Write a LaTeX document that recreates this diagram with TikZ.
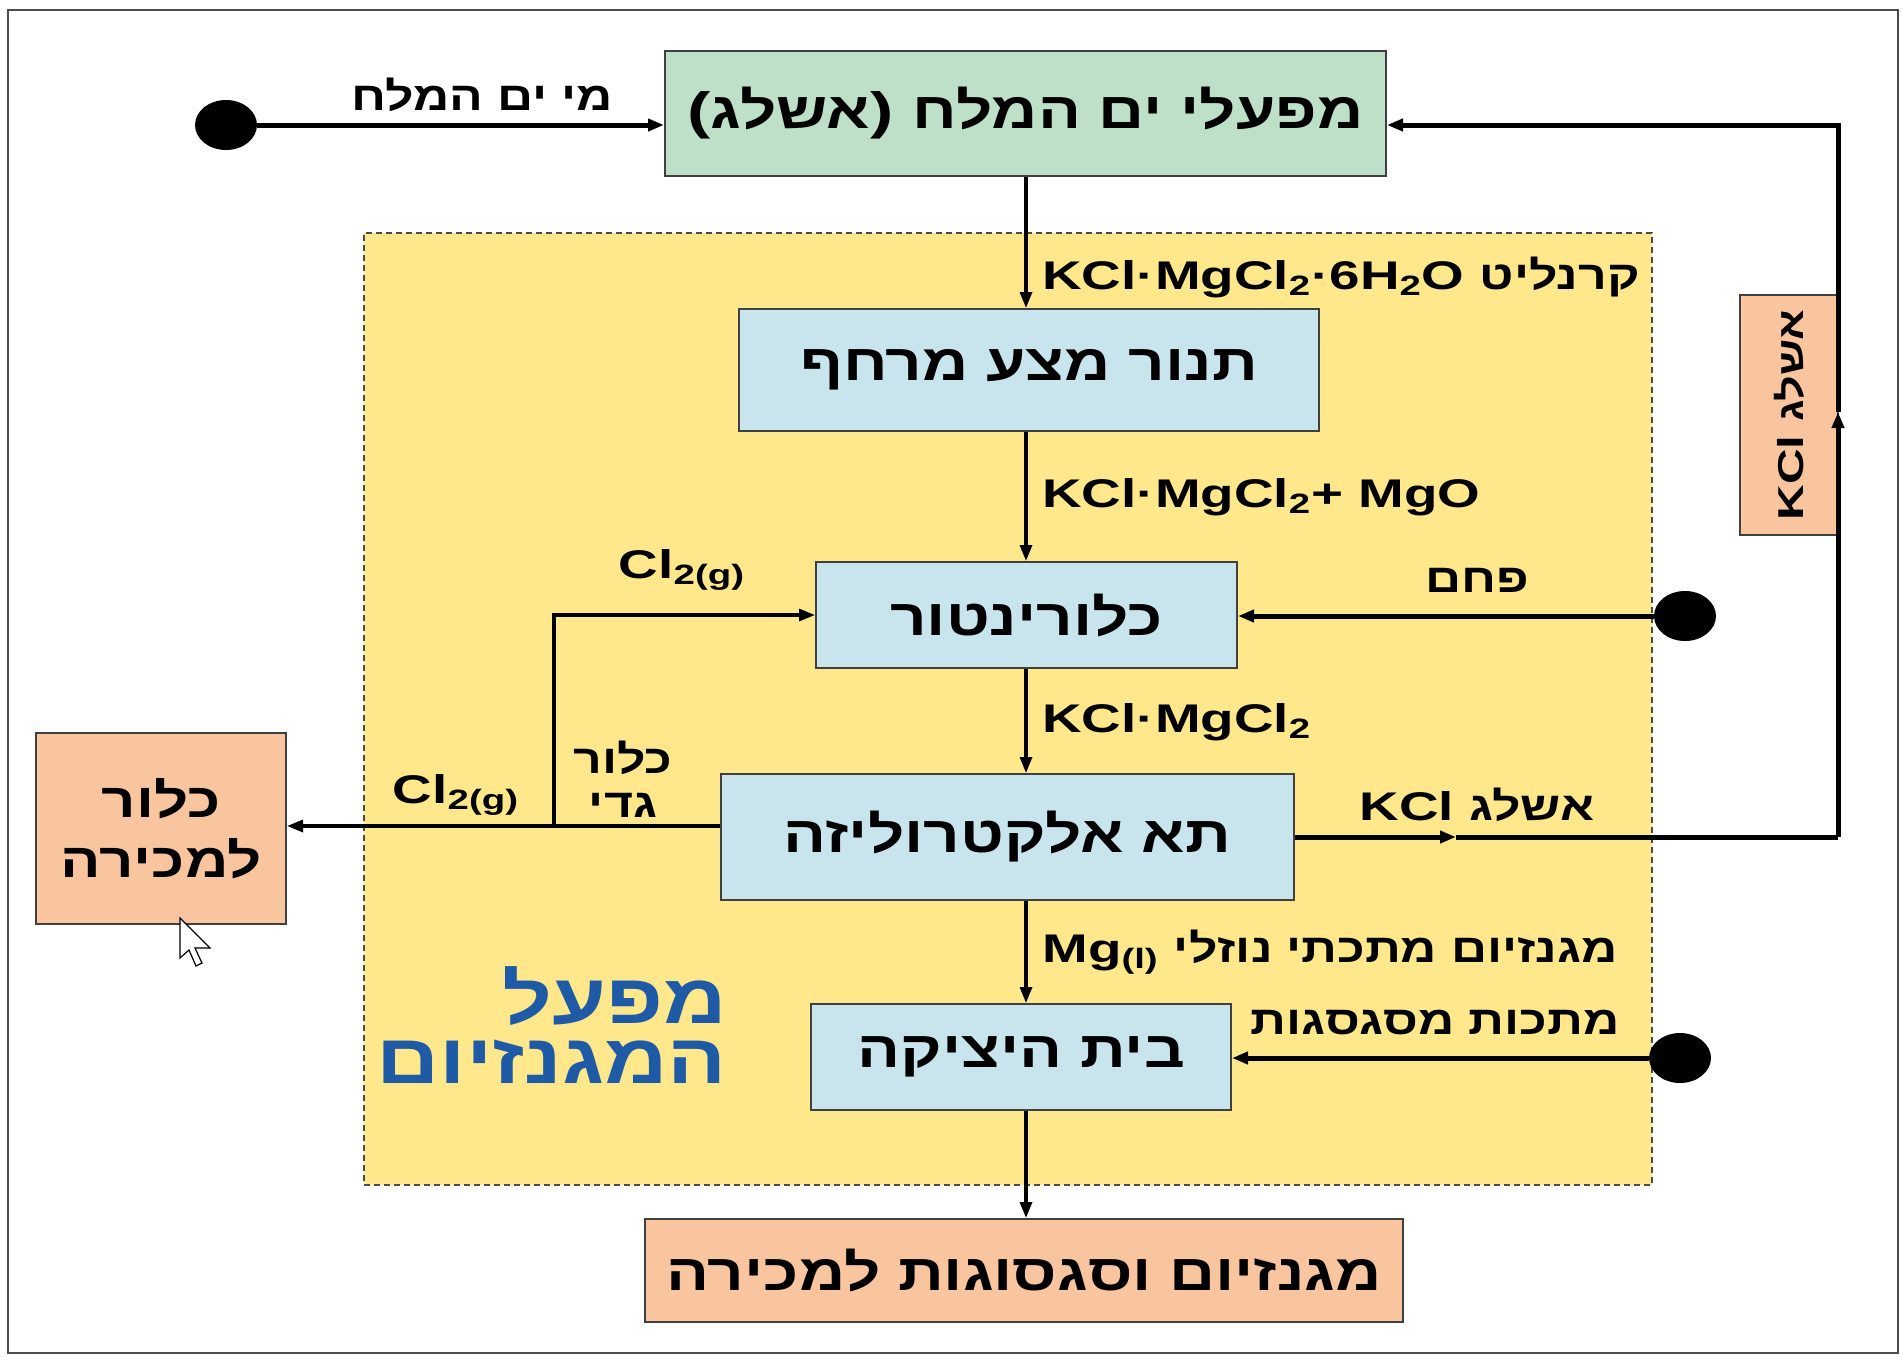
\documentclass[tikz,border=0pt]{standalone}
\usepackage{fontspec}
\setmainfont[FakeStretch=1.37]{Liberation Sans}
\newfontfamily\heb[Script=Hebrew,FakeStretch=1.25]{Liberation Sans}
\TeXXeTstate=1
\usetikzlibrary{arrows.meta,positioning,shapes.geometric}
\definecolor{saltgreen}{HTML}{BFE0C8}
\definecolor{procblue}{HTML}{C8E4EC}
\definecolor{saleorange}{HTML}{F9C59F}
\definecolor{plantyellow}{HTML}{FFE88C}
\definecolor{plantblue}{HTML}{1F5AA6}
\newcommand{\hebtxt}[1]{{\heb\beginR#1\endR}}
\tikzset{
  unit/.style={draw=black!75,line width=1pt,inner sep=0pt,align=center,
    font=\bfseries\fontsize{25.5}{30}\selectfont},
  saltbox/.style={unit,fill=saltgreen},
  procbox/.style={unit,fill=procblue},
  salebox/.style={unit,fill=saleorange},
  lbl/.style={inner sep=1pt,align=center,font=\bfseries\fontsize{20}{24}\selectfont},
  dot/.style={ellipse,fill=black,inner sep=0pt,minimum width=31pt,minimum height=25pt},
  tip/.style={-{Triangle[length=8pt,width=6pt]}},
  spine/.style={line width=1.6pt},
  feed/.style={line width=2.5pt},
}
\begin{document}
\begin{tikzpicture}[x=0.5pt,y=-0.5pt,line join=miter]
  \useasboundingbox (0,0) rectangle (1902,1356);
  \draw[black!70,line width=1pt] (8,10) rectangle (1898,1353);
  % the magnesium plant
  \node[fill=plantyellow,draw=black!70,dash pattern=on 3pt off 2pt,line width=0.8pt,
    minimum width=644pt,minimum height=476pt,inner sep=0pt] (plant) at (1008,709) {};
  \node[anchor=east,align=right,text=plantblue,font=\bfseries\fontsize{35}{30}\selectfont]
    (plantname) at (734,1025) {\hebtxt{מפעל}\\\hebtxt{המגנזיום}};
  % units
  \node[saltbox,minimum width=360.5pt,minimum height=62.5pt] (salt) at (1025.5,113.5)
    {(\hebtxt{אשלג}) \hebtxt{מפעלי ים המלח}};
  \node[procbox,minimum width=290pt,minimum height=61pt] (oven) at (1029,370)
    {\hebtxt{תנור מצע מרחף}};
  \node[procbox,minimum width=210.5pt,minimum height=53pt] (chlor) at (1026.5,615)
    {\hebtxt{כלורינטור}};
  \node[procbox,minimum width=286.5pt,minimum height=63pt] (elec) at (1007.5,837)
    {\hebtxt{תא אלקטרוליזה}};
  \node[procbox,minimum width=210pt,minimum height=53pt] (cast) at (1021,1057)
    {\hebtxt{בית היציקה}};
  \node[salebox,minimum width=379pt,minimum height=51.5pt] (mgsale) at (1024,1270.5)
    {\hebtxt{מגנזיום וסגסוגות למכירה}};
  \node[salebox,minimum width=125pt,minimum height=95.5pt,
    font=\bfseries\fontsize{24}{30}\selectfont] (clsale) at (161,828.5)
    {\hebtxt{כלור}\\\hebtxt{למכירה}};
  \node[salebox,rotate=90,minimum width=120pt,minimum height=49pt,
    font=\bfseries\fontsize{18}{22}\selectfont] (kclbox) at (1789,415) {KCl \hebtxt{אשלג}};
  % inputs
  \node[dot] (seain) at (226,125) {};
  \node[dot] (coal) at (1685,616) {};
  \node[dot] (alloy) at (1680,1058) {};
  \draw[feed,tip] (seain) -- (salt.west |- seain);
  \draw[feed,tip] (coal) -- (chlor.east |- coal);
  \draw[feed,tip] (alloy) -- (cast.east |- alloy);
  % main line
  \coordinate (axis) at (1026,0);
  \draw[spine,tip] (axis |- salt.south) -- (axis |- oven.north);
  \draw[spine,tip] (axis |- oven.south) -- (axis |- chlor.north);
  \draw[spine,tip] (axis |- chlor.south) -- (axis |- elec.north);
  \draw[spine,tip] (axis |- elec.south) -- (axis |- cast.north);
  \draw[spine,tip] (axis |- cast.south) -- (axis |- mgsale.north);
  % chlorine
  \coordinate (clsplit) at (554,826);
  \draw[spine,tip] (elec.west |- clsplit) -- (clsplit) -- (clsale.east |- clsplit);
  \draw[spine,tip] (clsplit) -- (clsplit |- chlor.west) -- (chlor.west);
  % potash back to the works
  \coordinate (kclmid) at (1456,837);
  \coordinate (kclturn) at (1838,837);
  \coordinate (kclup) at (1838,412);
  \coordinate (kcltop) at (1838,125);
  \draw[feed,tip] (elec.east |- kclmid) -- (kclmid);
  \draw[feed] (kclmid) -- (kclturn);
  \draw[feed,tip] (kclturn) -- (kclup);
  \draw[feed,tip] (kclup) -- (kcltop) -- (salt.east |- kcltop);
  % labels
  \node[lbl] (sealbl) at (482,95) {\hebtxt{מי ים המלח}};
  \node[lbl,anchor=west] (carnlbl) at (1040,277)
    {KCl·MgCl\textsubscript{2}·6H\textsubscript{2}O \hebtxt{קרנליט}};
  \node[lbl,anchor=west] (mixlbl) at (1040,497) {KCl·MgCl\textsubscript{2}+ MgO};
  \node[lbl,anchor=west] (saltlbl) at (1040,722) {KCl·MgCl\textsubscript{2}};
  \node[lbl,anchor=west] (mglbl) at (1040,952) {Mg\textsubscript{(l)} \hebtxt{מגנזיום מתכתי נוזלי}};
  \node[lbl] (coallbl) at (1477,580) {\hebtxt{פחם}};
  \node[lbl] (alloylbl) at (1435,1023) {\hebtxt{מתכות מסגסגות}};
  \node[lbl] (kcllbl) at (1477,805) {KCl \hebtxt{אשלג}};
  \node[lbl] (cltoplbl) at (682,570) {Cl\textsubscript{2(g)}};
  \node[lbl] (cllowlbl) at (456,795) {Cl\textsubscript{2(g)}};
  \node[lbl,font=\bfseries\fontsize{20}{22}\selectfont] (rawcl) at (623,779)
    {\hebtxt{כלור}\\\hebtxt{גדי}};
  % pointer
  \draw[fill=white,line width=0.6pt,shift={(180,918)}] (0,0) -- (0,40) -- (9,32) -- (16,48)
    -- (22,45) -- (15,30) -- (30,30) -- cycle;
\end{tikzpicture}
\end{document}
